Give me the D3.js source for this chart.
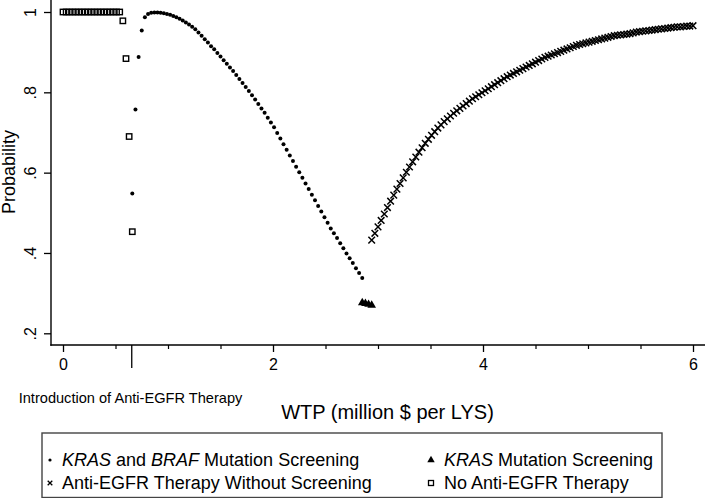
<!DOCTYPE html>
<html><head><meta charset="utf-8">
<script src="https://cdn.jsdelivr.net/npm/d3@7"></script>
<style>
html,body{margin:0;padding:0;background:#fff;}
svg{display:block;font-family:"Liberation Sans",Arial,Helvetica,sans-serif;}
</style></head>
<body><svg id="c" width="705" height="498"></svg>
<script>
// WTP grid step (million $ per LYS)
const wtpStep = 0.03;

// No Anti-EGFR Therapy (squares), starting at WTP 0
const noTherapyStart = 0;
const noTherapy = [1,1,1,1,1,1,1,1,1,1,1,1,1,1,1,1,1,1,1,0.978,0.884,0.690,0.453];

// KRAS and BRAF Mutation Screening (dots), starting at WTP 0.66
const kbStart = 0.66;
const kb = [0.548,0.757,0.888,0.954,0.987,0.995,0.998,0.999,0.999,0.998,0.997,0.995,0.993,0.990,0.987,0.983,0.979,0.974,0.969,0.963,
0.957,0.949,0.941,0.932,0.924,0.915,0.907,0.898,0.889,0.880,0.871,0.862,0.853,0.843,0.833,0.823,0.813,0.803,0.793,0.782,
0.771,0.760,0.749,0.737,0.725,0.713,0.699,0.685,0.671,0.657,0.643,0.629,0.615,0.601,0.587,0.573,0.559,0.545,0.531,0.517,
0.503,0.489,0.475,0.461,0.449,0.437,0.424,0.412,0.399,0.387,0.375,0.362,0.350,0.338];

// KRAS Mutation Screening (triangles), starting at WTP 2.85
const krasStart = 2.85;
const kras = [0.276,0.274,0.272,0.270];

// Anti-EGFR Therapy Without Screening (x), starting at WTP 2.94
const noScreenStart = 2.94;
const noScreen = [0.432,0.449,0.465,0.481,0.497,0.513,0.529,0.544,0.559,0.573,
0.587,0.601,0.614,0.627,0.639,0.651,0.662,0.673,0.683,0.693,
0.702,0.711,0.719,0.727,0.734,0.741,0.748,0.754,0.760,0.766,
0.772,0.778,0.784,0.789,0.794,0.799,0.804,0.809,0.814,0.819,
0.824,0.829,0.834,0.839,0.843,0.847,0.851,0.855,0.859,0.863,
0.867,0.871,0.875,0.879,0.883,0.887,0.890,0.893,0.896,0.899,
0.902,0.905,0.908,0.911,0.914,0.917,0.919,0.921,0.923,0.925,
0.927,0.929,0.931,0.933,0.935,0.937,0.939,0.941,0.942,0.943,
0.944,0.945,0.946,0.948,0.950,0.951,0.952,0.953,0.954,0.955,
0.956,0.957,0.958,0.959,0.960,0.961,0.962,0.963,0.963,0.964,
0.965,0.965,0.966];

// Axis ticks
const xMajorTicks = [0,2,4,6];
const xMinorTicks = [0.5,1,1.5,2.5,3,3.5,4.5,5,5.5];
const introTick = [0.65];
const introLabel = "Introduction of Anti-EGFR Therapy";
const yTicks = [0.2,0.4,0.6,0.8,1];
const yTickLabels = [".2",".4",".6",".8","1"];
const xTitle = "WTP (million $ per LYS)";
const yTitle = "Probability";

function pts(start, vals){ return vals.map((v,i)=>({x: +(start + i*wtpStep).toFixed(4), y: v})); }

const svg = d3.select("#c");
const x = d3.scaleLinear().domain([0,6]).range([63,693]);
const y = d3.scaleLinear().domain([0.2,1]).range([333.3,12]);
const plotLeft = 51, plotRight = 705, plotBottom = 345, plotTop = 0;

// axis lines
svg.append("line").attr("x1",plotLeft).attr("x2",plotLeft).attr("y1",plotTop).attr("y2",plotBottom+0.7)
  .attr("stroke","#000").attr("stroke-width",1.4);
svg.append("line").attr("x1",plotLeft-0.7).attr("x2",plotRight).attr("y1",plotBottom).attr("y2",plotBottom)
  .attr("stroke","#000").attr("stroke-width",1.4);

// x axis major
const gx = svg.append("g").attr("transform",`translate(0,${plotBottom})`)
  .call(d3.axisBottom(x).tickValues(xMajorTicks).tickSize(7).tickPadding(7).tickFormat(d3.format("d")));
gx.select(".domain").remove();
gx.selectAll("line").attr("stroke","#000").attr("stroke-width",1.3);
gx.selectAll("text").attr("font-size",16).attr("font-family","Liberation Sans, Arial, sans-serif").attr("fill","#000");

const gxm = svg.append("g").attr("transform",`translate(0,${plotBottom})`)
  .call(d3.axisBottom(x).tickValues(xMinorTicks).tickSize(4).tickFormat(""));
gxm.select(".domain").remove();
gxm.selectAll("line").attr("stroke","#000").attr("stroke-width",1.2);

const gxi = svg.append("g").attr("transform",`translate(0,${plotBottom})`)
  .call(d3.axisBottom(x).tickValues(introTick).tickSize(23).tickFormat(""));
gxi.select(".domain").remove();
gxi.selectAll("line").attr("stroke","#000").attr("stroke-width",1.3);

svg.append("text").attr("x",130.5).attr("y",402.5).attr("text-anchor","middle")
  .attr("font-size",14.6).text(introLabel);

// y axis
const gy = svg.append("g").attr("transform",`translate(${plotLeft},0)`)
  .call(d3.axisLeft(y).tickValues(yTicks).tickSize(7).tickFormat((d,i)=>yTickLabels[i]));
gy.select(".domain").remove();
gy.selectAll("line").attr("stroke","#000").attr("stroke-width",1.3);
gy.selectAll("text").attr("x",0).attr("dy",null).attr("text-anchor","middle")
  .attr("font-size",16).attr("fill","#000")
  .attr("transform","translate(-15.5,0) rotate(-90)");

// titles
svg.append("text").attr("x",387.5).attr("y",419).attr("text-anchor","middle").attr("font-size",20).text(xTitle);
svg.append("text").attr("transform","translate(15,172) rotate(-90)").attr("text-anchor","middle")
  .attr("font-size",18).text(yTitle);

// series
const g = svg.append("g");
// squares
g.selectAll("rect.sq").data(pts(noTherapyStart, noTherapy)).join("rect").attr("class","sq")
  .attr("x",d=>x(d.x)-2.7).attr("y",d=>y(d.y)-2.7).attr("width",5.4).attr("height",5.4)
  .attr("fill","none").attr("stroke","#000").attr("stroke-width",1.4);
// dots
g.selectAll("circle.kb").data(pts(kbStart, kb)).join("circle").attr("class","kb")
  .attr("cx",d=>x(d.x)).attr("cy",d=>y(d.y)).attr("r",2).attr("fill","#000");
// triangles
const tri = d3.symbol().type(d3.symbolTriangle).size(32);
g.selectAll("path.kr").data(pts(krasStart, kras)).join("path").attr("class","kr")
  .attr("d",tri).attr("transform",d=>`translate(${x(d.x)},${y(d.y)})`).attr("fill","#000");
// crosses
const cross = "M-3.3,-3.3L3.3,3.3M-3.3,3.3L3.3,-3.3";
g.selectAll("path.ns").data(pts(noScreenStart, noScreen)).join("path").attr("class","ns")
  .attr("d",cross).attr("transform",d=>`translate(${x(d.x)},${y(d.y)})`)
  .attr("stroke","#000").attr("stroke-width",1.5).attr("fill","none");

// legend
const lg = svg.append("g");
lg.append("rect").attr("x",42).attr("y",433).attr("width",620).attr("height",64.5)
  .attr("fill","#fff").attr("stroke","#444").attr("stroke-width",1.4);
const fs = 18;
// row 1 left
lg.append("circle").attr("cx",50).attr("cy",460).attr("r",1.6).attr("fill","#000");
const t1 = lg.append("text").attr("x",62).attr("y",466).attr("font-size",fs);
t1.append("tspan").attr("font-style","italic").text("KRAS");
t1.append("tspan").text(" and ");
t1.append("tspan").attr("font-style","italic").text("BRAF");
t1.append("tspan").text(" Mutation Screening");
// row 1 right
lg.append("path").attr("d",d3.symbol().type(d3.symbolTriangle).size(24)).attr("transform","translate(431,460)").attr("fill","#000");
const t2 = lg.append("text").attr("x",444).attr("y",466).attr("font-size",fs);
t2.append("tspan").attr("font-style","italic").text("KRAS");
t2.append("tspan").text(" Mutation Screening");
// row 2 left
lg.append("path").attr("d","M-2.3,-2.3L2.3,2.3M-2.3,2.3L2.3,-2.3").attr("transform","translate(50,483)")
  .attr("stroke","#000").attr("stroke-width",1.3);
lg.append("text").attr("x",62).attr("y",489).attr("font-size",fs).text("Anti-EGFR Therapy Without Screening");
// row 2 right
lg.append("rect").attr("x",428.5).attr("y",480.5).attr("width",5).attr("height",5)
  .attr("fill","none").attr("stroke","#000").attr("stroke-width",1.3);
lg.append("text").attr("x",444).attr("y",489).attr("font-size",fs).text("No Anti-EGFR Therapy");
</script></body></html>
